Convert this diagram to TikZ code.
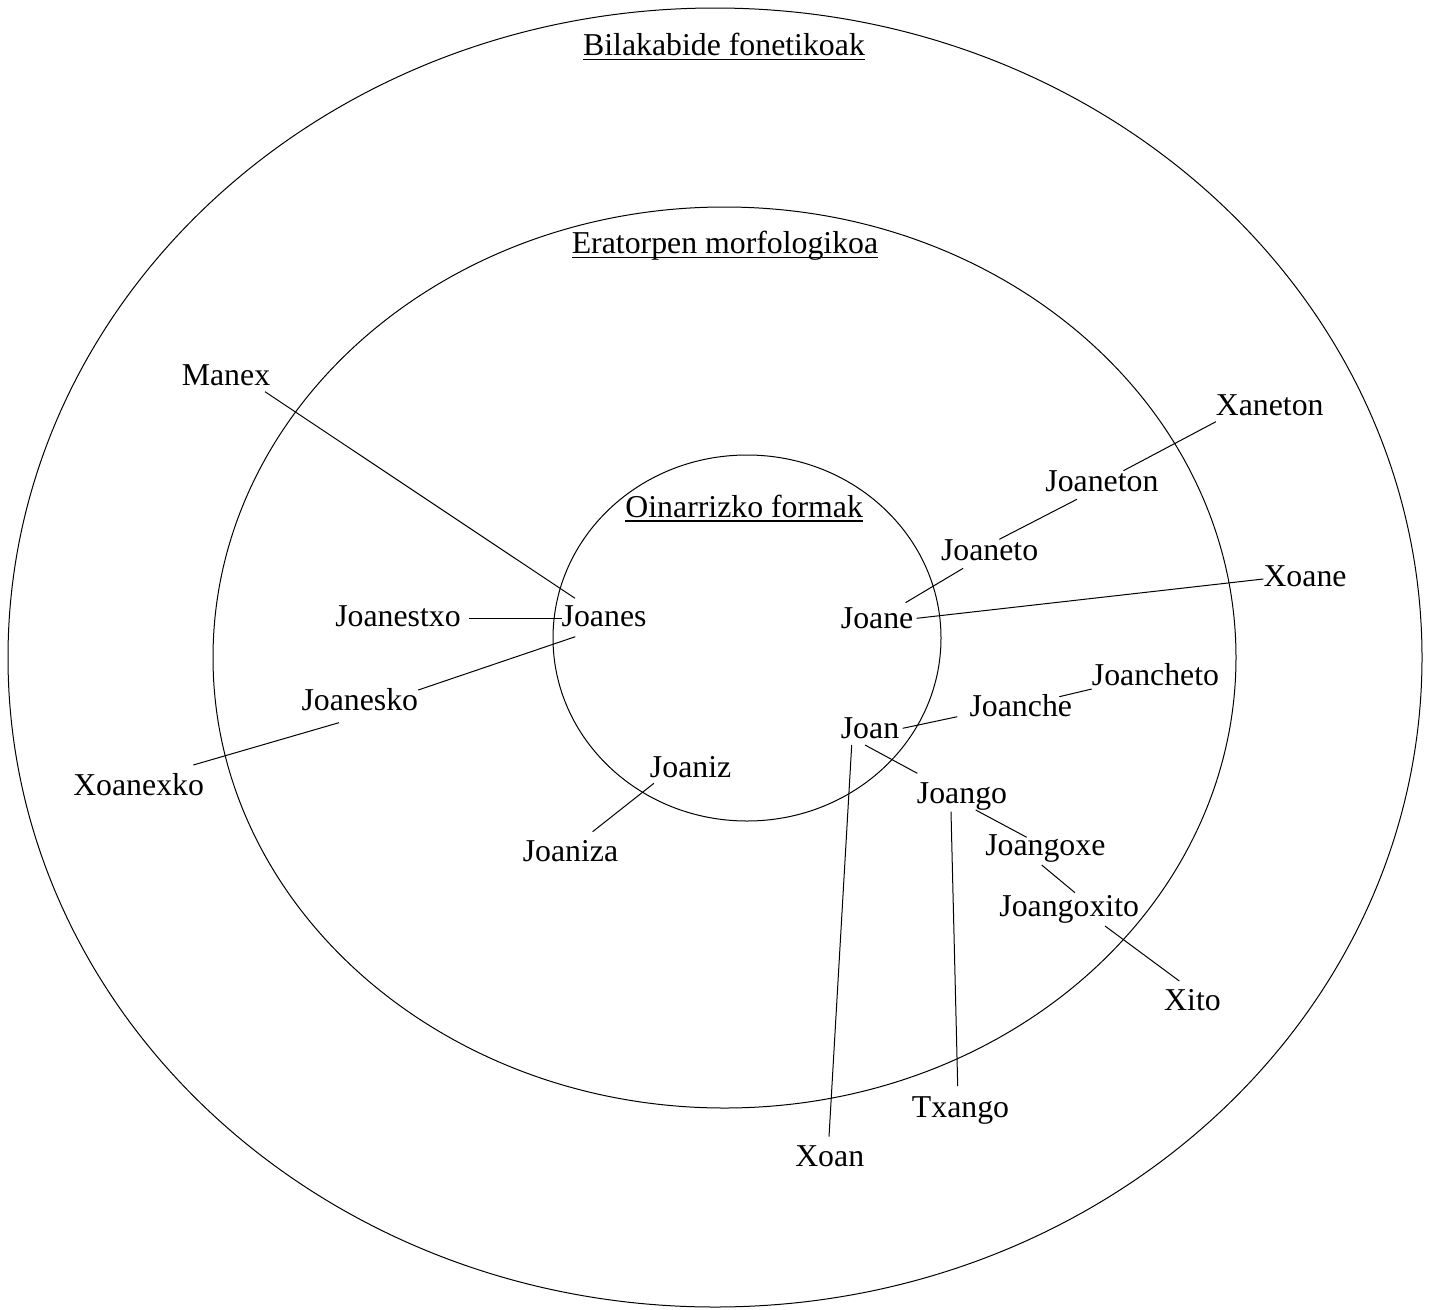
\documentclass[tikz,border=0pt]{standalone}
\usepackage{fontspec}
\setmainfont{Liberation Serif}
\begin{document}
\begin{tikzpicture}[x=1pt,y=-1pt,
  word/.style={anchor=base,inner sep=0pt,outer sep=0pt,font=\fontsize{31.8}{38}\selectfont},
  ring/.style={draw,line width=1pt},
  link/.style={draw,line width=1pt},
  uline/.style={draw,line width=1.6pt}]
\useasboundingbox (0,0) rectangle (1434,1309);

% rings
\draw[ring] (715,657.5) ellipse [x radius=707pt, y radius=649.5pt];
\draw[ring] (724.5,657.5) ellipse [x radius=511.5pt, y radius=450.5pt];
\draw[ring] (747,638) ellipse [x radius=194pt, y radius=183pt];

% titles
\node[word] (t1) at (724,55) {Bilakabide fonetikoak};
\node[word] (t2) at (725,253.3) {Eratorpen morfologikoa};
\node[word] (t3) at (744.2,517.3) {Oinarrizko formak};
\draw[uline] ([yshift=-4.3pt]t1.base west) -- ([yshift=-4.3pt]t1.base east);
\draw[uline] ([yshift=-4pt]t2.base west) -- ([yshift=-4pt]t2.base east);
\draw[uline] ([yshift=-3.5pt]t3.base west) -- ([yshift=-3.5pt]t3.base east);

% words
\node[word] (manex) at (226,385) {Manex};
\node[word] (joanestxo) at (398,626.7) {Joanestxo};
\node[word] (joanes) at (604.1,626.7) {Joanes};
\node[word] (joanesko) at (359.8,710.7) {Joanesko};
\node[word] (xoanexko) at (138.6,795) {Xoanexko};
\node[word] (joaniz) at (690.6,777) {Joaniz};
\node[word] (joaniza) at (570.5,861.7) {Joaniza};
\node[word] (joane) at (877.1,628.3) {Joane};
\node[word] (joaneto) at (989.6,560.7) {Joaneto};
\node[word] (joaneton) at (1101.9,491.7) {Joaneton};
\node[word] (xaneton) at (1269.7,415) {Xaneton};
\node[word] (xoane) at (1305,586) {Xoane};
\node[word] (joancheto) at (1155.5,685) {Joancheto};
\node[word] (joanche) at (1020.8,716) {Joanche};
\node[word] (joan) at (870,738) {Joan};
\node[word] (joango) at (962,803) {Joango};
\node[word] (joangoxe) at (1045.3,855) {Joangoxe};
\node[word] (joangoxito) at (1069.2,916.7) {Joangoxito};
\node[word] (xito) at (1192.5,1010) {Xito};
\node[word] (txango) at (960.5,1117.3) {Txango};
\node[word] (xoan) at (829.7,1166.7) {Xoan};

% connector end points
\coordinate (manex-a) at (265,391.7);      \coordinate (joanes-a) at (575,598.3);
\coordinate (joanestxo-a) at (469.3,618.3); \coordinate (joanes-b) at (561.7,618.3);
\coordinate (joanes-c) at (575.3,636.7);    \coordinate (joanesko-a) at (418.2,690);
\coordinate (joanesko-b) at (338.9,722.7);  \coordinate (xoanexko-a) at (193.3,765);
\coordinate (joaniz-a) at (653.9,783.3);    \coordinate (joaniza-a) at (592.6,831.7);
\coordinate (joane-a) at (905.5,602.7);     \coordinate (joaneto-a) at (963.1,568.3);
\coordinate (joaneto-b) at (999.3,539.3);   \coordinate (joaneton-a) at (1076.9,499.3);
\coordinate (joaneton-b) at (1123.4,470.7); \coordinate (xaneton-a) at (1215.9,421.7);
\coordinate (joane-b) at (916.6,618.3);     \coordinate (xoane-a) at (1263.3,579);
\coordinate (joan-a) at (902.7,728.3);      \coordinate (joanche-a) at (957.3,716.7);
\coordinate (joanche-b) at (1059.3,696.7);  \coordinate (joancheto-a) at (1091.7,689);
\coordinate (joan-b) at (865,745);          \coordinate (joango-a) at (917.3,773.3);
\coordinate (joan-c) at (851.7,745);        \coordinate (xoan-a) at (829,1136.7);
\coordinate (joango-b) at (951,811.7);      \coordinate (txango-a) at (957.7,1086);
\coordinate (joango-c) at (975.7,810);      \coordinate (joangoxe-a) at (1026.7,837.3);
\coordinate (joangoxe-b) at (1041.7,865);   \coordinate (joangoxito-a) at (1075,892.7);
\coordinate (joangoxito-b) at (1105,926);   \coordinate (xito-a) at (1179.3,981);

% connectors
\draw[link] (manex-a) -- (joanes-a);
\draw[link] (joanestxo-a) -- (joanes-b);
\draw[link] (joanes-c) -- (joanesko-a);
\draw[link] (joanesko-b) -- (xoanexko-a);
\draw[link] (joaniz-a) -- (joaniza-a);
\draw[link] (joane-a) -- (joaneto-a);
\draw[link] (joaneto-b) -- (joaneton-a);
\draw[link] (joaneton-b) -- (xaneton-a);
\draw[link] (joane-b) -- (xoane-a);
\draw[link] (joan-a) -- (joanche-a);
\draw[link] (joanche-b) -- (joancheto-a);
\draw[link] (joan-b) -- (joango-a);
\draw[link] (joan-c) -- (xoan-a);
\draw[link] (joango-b) -- (txango-a);
\draw[link] (joango-c) -- (joangoxe-a);
\draw[link] (joangoxe-b) -- (joangoxito-a);
\draw[link] (joangoxito-b) -- (xito-a);
\end{tikzpicture}
\end{document}
